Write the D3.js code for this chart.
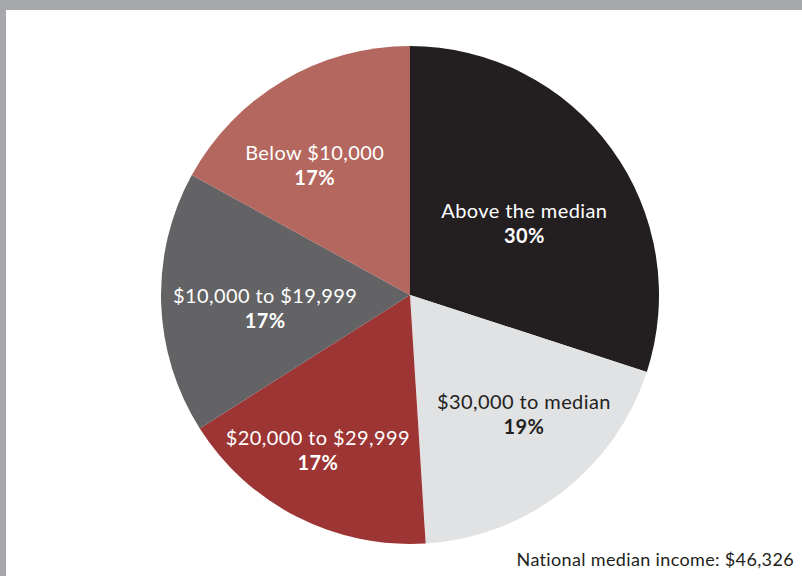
<!DOCTYPE html>
<html>
<head>
<meta charset="utf-8">
<script src="https://cdn.jsdelivr.net/npm/d3@7"></script>
<style>
  html, body { margin: 0; padding: 0; background: #ffffff; }
  svg { display: block; }
</style>
</head>
<body>
<svg id="chart" width="802" height="576"></svg>
<script>
// Share of households by income band
const categories = ["Above the median", "$30,000 to median", "$20,000 to $29,999", "$10,000 to $19,999", "Below $10,000"];
const shares = [30, 19, 17, 17, 17];
const sliceColors = ["#231f20", "#e1e2e3", "#9d3535", "#636264", "#b4675e"];
const labelColors = ["#ffffff", "#231f20", "#ffffff", "#ffffff", "#ffffff"];
const footnote = "National median income: $46,326";

// label nudges from the slice centroid (px)
const labelNudge = [[-7, 15], [22, -1], [-24, 20], [5, 7], [-19, -2]];

const W = 802, H = 576;
const cx = 410, cy = 295, R = 249;
const svg = d3.select("#chart");
const font = "Lato, 'Open Sans', sans-serif";

// frame
svg.append("rect").attr("x", 0).attr("y", 0).attr("width", W).attr("height", 10).attr("fill", "#a7a8ab");
svg.append("rect").attr("x", 0).attr("y", 0).attr("width", 6).attr("height", H).attr("fill", "#a7a8ab");

const pie = d3.pie().sort(null).value(d => d).startAngle(0).endAngle(2 * Math.PI);
const arcs = pie(shares);
const arc = d3.arc().innerRadius(0).outerRadius(R);
const labelArc = d3.arc().innerRadius(150).outerRadius(150);

const g = svg.append("g").attr("transform", `translate(${cx},${cy})`);

g.selectAll("path.slice")
  .data(arcs)
  .join("path")
  .attr("class", "slice")
  .attr("d", arc)
  .attr("fill", (d, i) => sliceColors[i]);

const labels = g.selectAll("g.label")
  .data(arcs)
  .join("g")
  .attr("class", "label")
  .attr("transform", (d, i) => {
    const [x, y] = labelArc.centroid(d);
    return `translate(${x + labelNudge[i][0]},${y + labelNudge[i][1]})`;
  });

labels.append("text")
  .attr("text-anchor", "middle")
  .attr("y", -4)
  .attr("font-family", font)
  .attr("font-size", 20)
  .attr("letter-spacing", 0.4)
  .attr("fill", (d, i) => labelColors[i])
  .text((d, i) => categories[i]);

labels.append("text")
  .attr("text-anchor", "middle")
  .attr("y", 21)
  .attr("font-family", font)
  .attr("font-size", 20)
  .attr("font-weight", "bold")
  .attr("letter-spacing", 0.4)
  .attr("fill", (d, i) => labelColors[i])
  .text(d => d.data + "%");

svg.append("text")
  .attr("x", 794)
  .attr("y", 566)
  .attr("text-anchor", "end")
  .attr("font-family", font)
  .attr("font-size", 18)
  .attr("letter-spacing", 0.35)
  .attr("fill", "#231f20")
  .text(footnote);
</script>
</body>
</html>
